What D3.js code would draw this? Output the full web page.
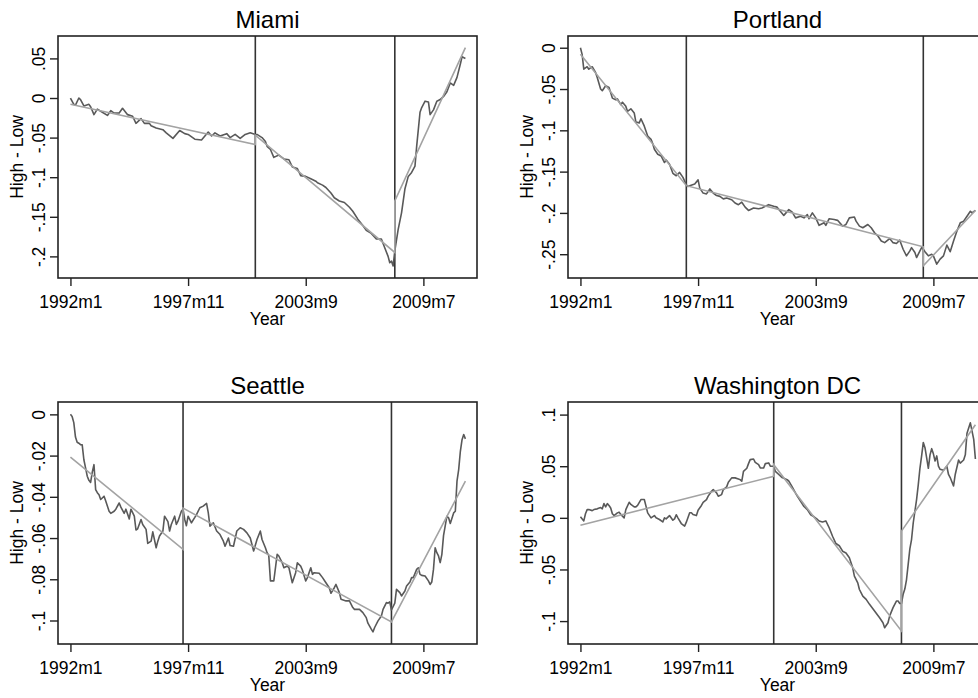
<!DOCTYPE html>
<html>
<head>
<meta charset="utf-8">
<script src="https://cdn.jsdelivr.net/npm/d3@7"></script>
<style>
body { margin: 0; background: #fff; }
svg { display: block; }
</style>
</head>
<body>
<svg id="main_svg" width="978" height="698"></svg>
<script>
// x axis: month index, 0 = 1992m1
const xTickVals = [0, 70, 140, 210];
const xTickLabels = ["1992m1", "1997m11", "2003m9", "2009m7"];

// [month index, High - Low]
const miami = [[0,0.000],[2,-0.008],[3,-0.009],[5,0.000],[6,-0.002],[8,-0.010],[11,-0.008],[12,-0.011],
  [14,-0.021],[16,-0.014],[19,-0.018],[22,-0.022],[24,-0.016],[26,-0.019],[29,-0.019],[31,-0.013],
  [34,-0.021],[37,-0.023],[39,-0.032],[42,-0.026],[44,-0.032],[47,-0.032],[48,-0.035],[51,-0.038],
  [55,-0.040],[57,-0.044],[61,-0.051],[65,-0.041],[68,-0.045],[70,-0.046],[74,-0.052],[78,-0.053],
  [82,-0.043],[84,-0.048],[86,-0.044],[89,-0.048],[93,-0.045],[95,-0.050],[98,-0.046],[101,-0.051],
  [104,-0.046],[107,-0.044],[110,-0.046],[111,-0.046],[114,-0.050],[116,-0.055],[117,-0.061],[119,-0.065],
  [121,-0.075],[124,-0.072],[127,-0.077],[130,-0.078],[132,-0.087],[135,-0.089],[137,-0.098],[140,-0.099],
  [143,-0.102],[146,-0.105],[147,-0.107],[150,-0.110],[152,-0.113],[155,-0.120],[157,-0.126],[160,-0.130],
  [163,-0.132],[166,-0.138],[168,-0.143],[171,-0.153],[174,-0.161],[176,-0.167],[179,-0.171],[182,-0.178],
  [185,-0.178],[187,-0.189],[189,-0.200],[190,-0.208],[191,-0.206],[192,-0.212],[193,-0.193],[195,-0.166],
  [197,-0.145],[199,-0.115],[201,-0.099],[203,-0.094],[205,-0.086],[206,-0.061],[208,-0.018],[209,-0.012],
  [211,-0.004],[213,-0.005],[214,-0.021],[216,-0.015],[218,-0.004],[220,-0.002],[222,0.002],[224,0.008],
  [226,0.019],[228,0.016],[230,0.026],[232,0.043],[233,0.052],[235,0.050]];
const miamiFit = [[0,-0.008],[110,-0.0587],[110,-0.047],[193,-0.195],[193,-0.130],[235,0.0636]];
const miamiBreaks = [110, 193];
const miamiTicks = [0.05, 0, -0.05, -0.1, -0.15, -0.2];

const portland = [[0,0.000],[1,-0.008],[2,-0.026],[4,-0.023],[5,-0.026],[7,-0.023],[9,-0.030],[10,-0.036],
  [12,-0.050],[13,-0.052],[15,-0.046],[17,-0.048],[19,-0.061],[21,-0.063],[22,-0.062],[24,-0.069],
  [25,-0.066],[27,-0.071],[28,-0.077],[30,-0.074],[32,-0.079],[33,-0.090],[35,-0.091],[36,-0.086],
  [38,-0.095],[40,-0.107],[42,-0.111],[43,-0.116],[44,-0.123],[46,-0.129],[48,-0.131],[50,-0.139],
  [51,-0.136],[53,-0.141],[55,-0.152],[57,-0.155],[59,-0.151],[61,-0.157],[63,-0.166],[64,-0.168],
  [65,-0.167],[68,-0.165],[70,-0.160],[71,-0.170],[73,-0.176],[75,-0.177],[77,-0.171],[79,-0.176],
  [81,-0.179],[83,-0.180],[85,-0.183],[87,-0.182],[90,-0.184],[92,-0.188],[94,-0.190],[96,-0.187],
  [98,-0.193],[100,-0.197],[103,-0.194],[106,-0.195],[108,-0.194],[110,-0.192],[112,-0.190],[115,-0.192],
  [117,-0.193],[121,-0.203],[124,-0.196],[126,-0.199],[128,-0.206],[131,-0.204],[133,-0.206],[135,-0.202],
  [136,-0.207],[138,-0.200],[140,-0.206],[142,-0.215],[145,-0.212],[146,-0.215],[148,-0.207],[151,-0.208],
  [153,-0.209],[156,-0.216],[158,-0.214],[160,-0.206],[163,-0.205],[164,-0.210],[166,-0.216],[168,-0.218],
  [171,-0.214],[173,-0.218],[175,-0.224],[177,-0.228],[179,-0.234],[181,-0.236],[184,-0.231],[186,-0.236],
  [188,-0.237],[190,-0.233],[192,-0.244],[194,-0.252],[196,-0.246],[197,-0.242],[199,-0.248],[200,-0.254],
  [202,-0.246],[203,-0.242],[204,-0.244],[205,-0.247],[207,-0.252],[209,-0.250],[210,-0.252],[212,-0.262],
  [214,-0.256],[216,-0.252],[218,-0.239],[220,-0.247],[222,-0.234],[224,-0.222],[226,-0.212],[228,-0.210],
  [230,-0.204],[232,-0.198],[233,-0.200],[235,-0.197]];
const portlandFit = [[0,-0.008],[63,-0.167],[204,-0.241],[204,-0.264],[235,-0.197]];
const portlandBreaks = [63, 204];
const portlandTicks = [0, -0.05, -0.1, -0.15, -0.2, -0.25];

const seattle = [[0,0.000],[1,-0.001],[2,-0.004],[3,-0.011],[4,-0.0135],[5,-0.014],[6,-0.0147],[7,-0.0148],
  [8,-0.022],[9,-0.026],[10,-0.030],[11,-0.032],[12,-0.033],[13,-0.028],[14,-0.0244],[15,-0.0365],
  [16,-0.038],[17,-0.039],[18,-0.0413],[20,-0.0397],[21,-0.042],[23,-0.047],[24,-0.048],[26,-0.047],
  [27,-0.046],[29,-0.043],[30,-0.045],[32,-0.048],[33,-0.046],[35,-0.0507],[36,-0.046],[38,-0.0494],
  [39,-0.0561],[40,-0.0555],[42,-0.051],[43,-0.0534],[45,-0.0558],[46,-0.0626],[48,-0.0615],[49,-0.057],
  [51,-0.0647],[52,-0.0615],[53,-0.059],[55,-0.0566],[56,-0.0494],[58,-0.052],[59,-0.0566],[60,-0.0534],
  [62,-0.0494],[63,-0.0534],[64,-0.0518],[66,-0.047],[67,-0.046],[68,-0.051],[69,-0.054],[70,-0.0494],
  [72,-0.0526],[74,-0.050],[75,-0.0486],[77,-0.0453],[79,-0.0445],[81,-0.0432],[82,-0.0477],[83,-0.0542],
  [85,-0.0526],[87,-0.0566],[89,-0.0583],[91,-0.0615],[92,-0.064],[94,-0.060],[95,-0.0636],[97,-0.064],
  [99,-0.0566],[101,-0.055],[103,-0.0558],[105,-0.0575],[107,-0.060],[109,-0.0663],[111,-0.0607],[113,-0.0566],
  [114,-0.0607],[116,-0.0647],[117,-0.0671],[118,-0.0684],[119,-0.0808],[121,-0.0808],[123,-0.0679],[124,-0.0687],
  [126,-0.072],[127,-0.0744],[129,-0.0736],[130,-0.0744],[132,-0.0817],[134,-0.0768],[135,-0.072],[137,-0.0736],
  [138,-0.0755],[140,-0.0808],[141,-0.0792],[143,-0.0744],[144,-0.0776],[145,-0.0768],[148,-0.0771],[150,-0.0792],
  [152,-0.0817],[154,-0.0841],[155,-0.0868],[157,-0.0841],[158,-0.0825],[160,-0.0865],[161,-0.0897],[164,-0.0905],
  [166,-0.0905],[168,-0.0937],[169,-0.0946],[172,-0.0946],[174,-0.0962],[176,-0.0986],[177,-0.1013],[179,-0.1042],
  [180,-0.1055],[181,-0.1034],[183,-0.1002],[185,-0.0978],[186,-0.0946],[188,-0.0913],[189,-0.0916],[190,-0.091],
  [191,-0.0949],[193,-0.0916],[194,-0.0849],[196,-0.0865],[197,-0.0881],[199,-0.0857],[200,-0.0833],[202,-0.0813],
  [203,-0.0792],[204,-0.0792],[206,-0.0752],[207,-0.0744],[208,-0.0776],[209,-0.0781],[211,-0.0784],[213,-0.0808],
  [214,-0.0825],[215,-0.0813],[216,-0.0752],[217,-0.0647],[218,-0.0671],[219,-0.0687],[220,-0.0719],[221,-0.0679],
  [222,-0.0587],[224,-0.0494],[225,-0.0502],[226,-0.0529],[228,-0.0478],[229,-0.047],[230,-0.0324],[231,-0.0268],
  [232,-0.0179],[233,-0.0123],[234,-0.0098],[235,-0.0119]];
const seattleFit = [[0,-0.0207],[67,-0.0655],[67,-0.0455],[191,-0.1007],[235,-0.0324]];
const seattleBreaks = [67, 191];
const seattleTicks = [0, -0.02, -0.04, -0.06, -0.08, -0.1];

const dc = [[0,0.001],[2,-0.003],[3,0.004],[4,0.008],[5,0.008],[7,0.007],[8,0.008],[10,0.0087],
  [12,0.010],[13,0.0087],[14,0.0138],[15,0.0106],[16,0.0138],[17,0.012],[18,0.0096],[19,0.004],
  [20,0.0022],[22,0.0048],[23,0.0055],[25,0.0016],[26,0.000],[27,0.008],[29,0.0151],[30,0.013],
  [32,0.0106],[33,0.0106],[34,0.012],[36,0.0177],[38,0.0177],[39,0.0113],[40,0.0048],[42,0.000],
  [44,0.0022],[45,0.000],[47,-0.0016],[49,-0.004],[50,0.000],[51,-0.001],[53,0.0022],[55,-0.0023],
  [56,-0.001],[57,0.003],[58,0.000],[60,-0.0055],[62,-0.008],[63,-0.0042],[65,0.005],[66,0.005],
  [67,0.0032],[69,0.0022],[70,0.0074],[72,0.012],[73,0.015],[75,0.0177],[76,0.021],[78,0.0258],
  [79,0.0274],[81,0.0242],[82,0.021],[84,0.0225],[85,0.0274],[87,0.030],[88,0.0345],[90,0.0387],
  [92,0.0387],[94,0.0377],[95,0.037],[96,0.0355],[97,0.045],[99,0.048],[100,0.0525],[101,0.0564],
  [103,0.057],[104,0.0538],[106,0.0516],[107,0.0483],[109,0.0483],[110,0.0525],[112,0.0532],[113,0.050],
  [115,0.050],[116,0.045],[118,0.042],[120,0.039],[123,0.037],[124,0.0355],[126,0.030],[128,0.024],
  [129,0.021],[131,0.016],[133,0.011],[135,0.008],[137,0.003],[139,0.001],[141,-0.0016],[142,-0.003],
  [144,-0.004],[146,-0.003],[148,-0.0096],[150,-0.0178],[152,-0.0249],[154,-0.027],[156,-0.0323],[158,-0.034],
  [160,-0.0387],[162,-0.0484],[163,-0.0565],[165,-0.063],[166,-0.0694],[168,-0.0758],[170,-0.079],[172,-0.0838],
  [174,-0.088],[176,-0.0925],[178,-0.0968],[180,-0.1016],[181,-0.1064],[183,-0.1016],[184,-0.095],[186,-0.087],
  [188,-0.0806],[189,-0.0806],[190,-0.083],[191,-0.083],[192,-0.074],[193,-0.069],[194,-0.060],[195,-0.045],
  [196,-0.030],[197,-0.021],[198,-0.005],[200,0.0177],[201,0.032],[202,0.048],[203,0.060],[204,0.073],
  [205,0.068],[206,0.058],[207,0.048],[208,0.061],[209,0.067],[210,0.062],[211,0.055],[212,0.060],
  [213,0.050],[214,0.047],[216,0.046],[218,0.050],[219,0.042],[220,0.039],[221,0.035],[222,0.031],
  [223,0.042],[225,0.056],[226,0.053],[228,0.056],[229,0.061],[230,0.082],[232,0.092],[233,0.084],
  [234,0.076],[235,0.057]];
const dcFit = [[0,-0.0071],[115,0.0402],[115,0.0515],[191,-0.1096],[191,-0.0129],[235,0.0902]];
const dcBreaks = [115, 191];
const dcTicks = [0.1, 0.05, 0, -0.05, -0.1];

const svg = d3.select("#main_svg");
const W = 419, H = 242;
const font = "'Liberation Sans', Arial, sans-serif";

const panels = [
  {title: "Miami", data: miami, fit: miamiFit, breaks: miamiBreaks, ticks: miamiTicks, domain: [-0.2273, 0.0783], left: 58, top: 36},
  {title: "Portland", data: portland, fit: portlandFit, breaks: portlandBreaks, ticks: portlandTicks, domain: [-0.2788, 0.0142], left: 568, top: 36},
  {title: "Seattle", data: seattle, fit: seattleFit, breaks: seattleBreaks, ticks: seattleTicks, domain: [-0.1114, 0.0060], left: 58, top: 402},
  {title: "Washington DC", data: dc, fit: dcFit, breaks: dcBreaks, ticks: dcTicks, domain: [-0.1222, 0.1122], left: 568, top: 402}
];

function stataNum(d) {
  if (d === 0) return "0";
  return String(+d.toFixed(3)).replace("0.", ".");
}

panels.forEach(drawPanel);

function drawPanel(p) {
  let g = svg.append("g").attr("transform", "translate(" + p.left + "," + p.top + ")");
  let x = d3.scaleLinear().domain([-7.4, 241.9]).range([0, W]);
  let y = d3.scaleLinear().domain(p.domain).range([H, 0]);

  // break lines, behind the series
  g.selectAll("line.brk").data(p.breaks).enter().append("line")
    .attr("class", "brk")
    .attr("x1", d => x(d)).attr("x2", d => x(d))
    .attr("y1", 0).attr("y2", H)
    .attr("stroke", "#333").attr("stroke-width", 1.6);

  let line = d3.line().x(d => x(d[0])).y(d => y(d[1]));

  g.append("path").datum(p.data)
    .attr("d", line)
    .attr("fill", "none").attr("stroke", "#595959").attr("stroke-width", 1.6)
    .attr("stroke-linejoin", "round");

  g.append("path").datum(p.fit)
    .attr("d", line)
    .attr("fill", "none").attr("stroke", "#a3a3a3").attr("stroke-width", 1.6);

  g.append("rect")
    .attr("width", W).attr("height", H)
    .attr("fill", "none").attr("stroke", "#222").attr("stroke-width", 1.6);

  let xa = g.append("g").attr("transform", "translate(0," + H + ")")
    .call(d3.axisBottom(x).tickValues(xTickVals).tickFormat((d, i) => xTickLabels[i]).tickSize(8));
  xa.select(".domain").remove();
  xa.selectAll(".tick line").attr("stroke", "#222").attr("stroke-width", 1.4);
  xa.selectAll(".tick text")
    .attr("y", 30).attr("dy", 0)
    .attr("fill", "#000")
    .style("font-family", font).style("font-size", "17.5px");

  let ya = g.append("g")
    .call(d3.axisLeft(y).tickValues(p.ticks).tickFormat(stataNum).tickSize(8));
  ya.select(".domain").remove();
  ya.selectAll(".tick line").attr("stroke", "#222").attr("stroke-width", 1.4);
  ya.selectAll(".tick text")
    .attr("transform", "rotate(-90)")
    .attr("x", 0).attr("y", -13).attr("dy", 0)
    .attr("text-anchor", "middle")
    .attr("fill", "#000")
    .style("font-family", font).style("font-size", "17.5px");

  g.append("text")
    .attr("x", W / 2).attr("y", -8.5)
    .attr("text-anchor", "middle")
    .style("font-family", font).style("font-size", "24px")
    .text(p.title);

  g.append("text")
    .attr("x", W / 2).attr("y", H + 47)
    .attr("text-anchor", "middle")
    .style("font-family", font).style("font-size", "17.5px")
    .text("Year");

  g.append("text")
    .attr("transform", "translate(-35," + (H / 2) + ") rotate(-90)")
    .attr("text-anchor", "middle")
    .style("font-family", font).style("font-size", "17.5px")
    .text("High - Low");
}
</script>
</body>
</html>
